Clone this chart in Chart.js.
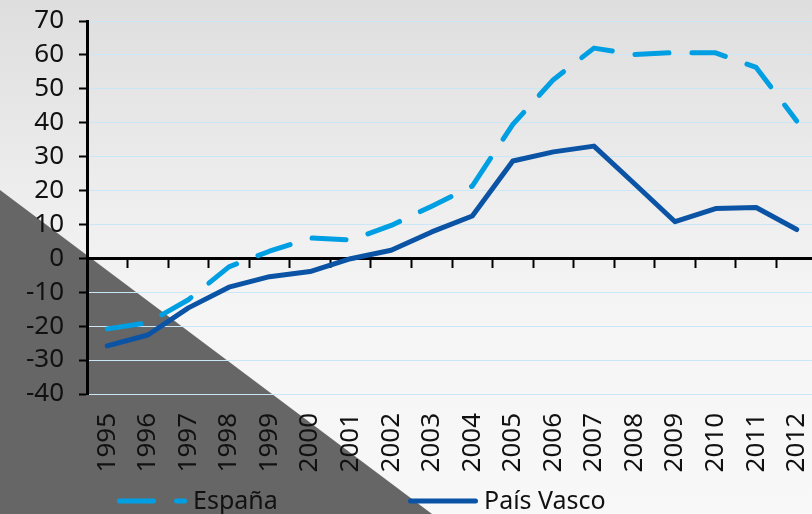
<!DOCTYPE html>
<html>
<head>
<meta charset="utf-8">
<script src="https://cdn.jsdelivr.net/npm/chart.js@4/dist/chart.umd.min.js"></script>
<style>
  html, body { margin: 0; padding: 0; width: 812px; height: 514px; overflow: hidden; }
  body { position: relative; background: linear-gradient(to bottom, #dedede 0%, #eeeeee 40%, #f5f5f5 60%, #f8f8f8 100%); }
  #tri { position: absolute; left: 0; top: 0; width: 812px; height: 514px; background: #666666;
         clip-path: polygon(0 190px, 432px 514px, 0 514px); }
  #c { position: absolute; left: 0; top: 0; }
</style>
</head>
<body>
<div id="tri"></div>
<canvas id="c" width="817" height="514"></canvas>
<script>
const years = ['1995','1996','1997','1998','1999','2000','2001','2002','2003','2004','2005','2006','2007','2008','2009','2010','2011','2012'];
const espana = [-20.8, -19.0, -12.2, -2.5, 2.1, 6.0, 5.4, 9.7, 15.4, 21.3, 39.5, 52.7, 62.0, 60.1, 60.7, 60.6, 56.3, 40.5];
const paisVasco = [-25.8, -22.6, -14.6, -8.5, -5.4, -3.9, -0.1, 2.4, 7.8, 12.5, 28.7, 31.4, 33.1, 22.0, 10.8, 14.7, 15.0, 8.5];
const yTicks = [70, 60, 50, 40, 30, 20, 10, 0, -10, -20, -30, -40];

const FONT = '"Noto Sans", "Open Sans", sans-serif';

const bottomLegend = {
  id: 'bottomLegend',
  afterDraw(chart, args, opts) {
    const ctx = chart.ctx;
    ctx.save();
    chart.data.datasets.forEach((ds, i) => {
      const x = opts.x[i];
      const w = ds.borderWidth;
      ctx.strokeStyle = ds.borderColor;
      ctx.lineWidth = w;
      ctx.lineCap = 'round';
      ctx.setLineDash(ds.borderDash || []);
      ctx.beginPath();
      ctx.moveTo(x + w / 2, opts.lineY);
      ctx.lineTo(x + opts.lineLength - w / 2, opts.lineY);
      ctx.stroke();
      ctx.setLineDash([]);
      ctx.fillStyle = opts.color;
      ctx.font = opts.font;
      ctx.textBaseline = 'alphabetic';
      ctx.textAlign = 'left';
      ctx.fillText(ds.label, x + opts.lineLength + opts.gap, opts.textY);
    });
    ctx.restore();
  }
};

new Chart(document.getElementById('c'), {
  type: 'line',
  data: {
    labels: years,
    datasets: [
      {
        label: 'España',
        data: espana,
        borderColor: '#009fe3',
        borderWidth: 5,
        borderDash: [34, 23],
        borderCapStyle: 'round',
        borderJoinStyle: 'round',
        pointRadius: 0,
        tension: 0,
        fill: false
      },
      {
        label: 'País Vasco',
        data: paisVasco,
        borderColor: '#0b53a5',
        borderWidth: 5,
        borderCapStyle: 'round',
        borderJoinStyle: 'round',
        pointRadius: 0,
        tension: 0,
        fill: false
      }
    ]
  },
  options: {
    responsive: false,
    animation: false,
    devicePixelRatio: 1,
    layout: { padding: { top: 21, left: 0, right: 0, bottom: 0 } },
    plugins: {
      legend: { display: false },
      tooltip: { enabled: false },
      bottomLegend: {
        x: [117, 408],
        lineLength: 70,
        gap: 6,
        lineY: 501,
        textY: 508.5,
        color: '#111111',
        font: '25px ' + FONT
      }
    },
    scales: {
      x: {
        type: 'category',
        offset: true,
        grid: { display: false, drawTicks: false },
        border: { display: false },
        ticks: {
          autoSkip: false,
          maxRotation: 90,
          minRotation: 90,
          padding: 19,
          color: '#111111',
          font: { family: FONT, size: 26 }
        },
        afterFit(scale) { scale.height = 120; scale.paddingLeft = 0; scale.paddingRight = 0; }
      },
      x2: {
        type: 'category',
        labels: years,
        offset: true,
        position: { y: 0 },
        grid: {
          drawOnChartArea: false,
          drawTicks: true,
          tickLength: 8,
          tickWidth: 2,
          tickColor: '#000000',
          offset: true
        },
        border: { display: true, color: '#000000', width: 3 },
        ticks: { display: false }
      },
      y: {
        min: -40,
        max: 70,
        afterBuildTicks(scale) { scale.ticks = yTicks.map(v => ({ value: v })); },
        ticks: {
          autoSkip: false,
          padding: 15,
          color: '#111111',
          font: { family: FONT, size: 26, lineHeight: 1.0 },
          callback: (v) => String(v)
        },
        grid: {
          color: (c) => (c.tick && c.tick.value === 0) ? 'rgba(0,0,0,0)' : '#c9e7f7',
          lineWidth: 1,
          drawTicks: true,
          tickLength: 8,
          tickWidth: 2,
          tickColor: '#000000'
        },
        border: { display: true, color: '#000000', width: 3 },
        afterFit(scale) { scale.width = 87; scale.paddingTop = 0; scale.paddingBottom = 0; }
      }
    }
  },
  plugins: [bottomLegend]
});
</script>
</body>
</html>
